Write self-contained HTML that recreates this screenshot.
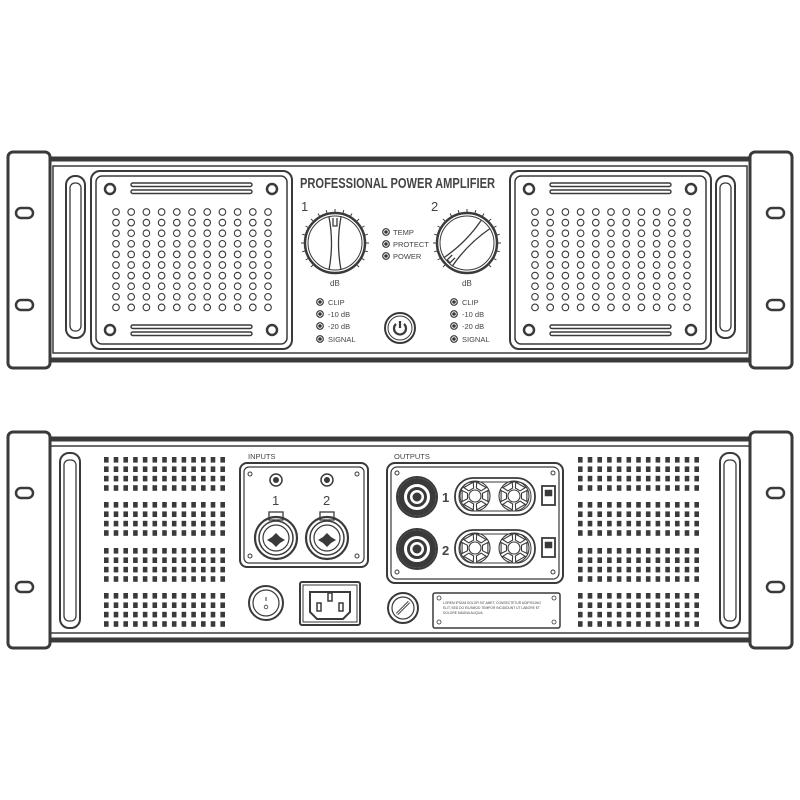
<!DOCTYPE html>
<html><head><meta charset="utf-8"><style>
html,body{margin:0;padding:0;background:#fff;width:800px;height:800px;overflow:hidden}
svg{display:block}
text{font-family:"Liberation Sans",sans-serif;fill:#444}
</style></head><body>
<svg id="s" width="800" height="800" viewBox="0 0 800 800" xmlns="http://www.w3.org/2000/svg">
<g fill="none" stroke="#3a3a3a">
<!-- FRONT -->
<rect x="47" y="159" width="706" height="201" stroke-width="5" fill="#fff"/>
<rect x="53" y="166" width="694" height="187" stroke-width="1.5"/>
<rect x="8" y="152" width="42" height="216" rx="5" stroke-width="3" fill="#fff"/>
<rect x="750" y="152" width="42" height="216" rx="5" stroke-width="3" fill="#fff"/>
<rect x="16" y="208" width="17" height="10" rx="5" stroke-width="2.5"/>
<rect x="16" y="300" width="17" height="10" rx="5" stroke-width="2.5"/>
<rect x="767" y="208" width="17" height="10" rx="5" stroke-width="2.5"/>
<rect x="767" y="300" width="17" height="10" rx="5" stroke-width="2.5"/>
<rect x="66" y="176" width="19" height="162" rx="9" stroke-width="2"/>
<rect x="70" y="183" width="11" height="148" rx="5" stroke-width="1.3"/>
<rect x="716" y="176" width="19" height="162" rx="9" stroke-width="2"/>
<rect x="720" y="183" width="11" height="148" rx="5" stroke-width="1.3"/>
<rect x="91" y="171" width="201" height="178" rx="9" stroke-width="2"/>
<rect x="96" y="176" width="191" height="168" rx="6" stroke-width="1.5"/>
<rect x="510" y="171" width="201" height="178" rx="9" stroke-width="2"/>
<rect x="515" y="176" width="191" height="168" rx="6" stroke-width="1.5"/>
<g stroke-width="2.5">
<circle cx="110" cy="189" r="5"/><circle cx="272" cy="189" r="5"/><circle cx="110" cy="330" r="5"/><circle cx="272" cy="330" r="5"/>
<circle cx="529" cy="189" r="5"/><circle cx="691" cy="189" r="5"/><circle cx="529" cy="330" r="5"/><circle cx="691" cy="330" r="5"/>
</g>
<g stroke-width="1.4">
<rect x="131" y="183" width="121" height="3.5" rx="1.7"/><rect x="131" y="190" width="121" height="3.5" rx="1.7"/>
<rect x="131" y="325" width="121" height="3.5" rx="1.7"/><rect x="131" y="332" width="121" height="3.5" rx="1.7"/>
<rect x="550" y="183" width="121" height="3.5" rx="1.7"/><rect x="550" y="190" width="121" height="3.5" rx="1.7"/>
<rect x="550" y="325" width="121" height="3.5" rx="1.7"/><rect x="550" y="332" width="121" height="3.5" rx="1.7"/>
</g>
<g id="dots" stroke-width="1.1"></g>
<!-- knobs -->
<g id="ticks" stroke-width="1"></g>
<circle cx="335" cy="243" r="30" stroke-width="2.5"/>
<circle cx="335" cy="243" r="27" stroke-width="1"/>
<path d="M329 217 Q334 243 329 270 M341 217 Q336 243 341 270 M333 218 v8 h4 v-8" stroke-width="1.3"/>
<circle cx="467" cy="243" r="30" stroke-width="2.5"/>
<circle cx="467" cy="243" r="27" stroke-width="1"/>
<g transform="rotate(45 467 243)"><path d="M461 217 Q466 243 461 270 M473 217 Q468 243 473 270 M465 262 v7 h4 v-7" stroke-width="1.3"/></g>
<g id="leds" stroke-width="1.2"></g>
<circle cx="400" cy="328" r="15" stroke-width="2"/>
<circle cx="400" cy="328" r="12" stroke-width="1"/>
<path d="M396 324 A6 6 0 1 0 404 324" stroke-width="2.2"/>
<line x1="400" y1="321" x2="400" y2="328" stroke-width="2.2"/>

<!-- BACK -->
<rect x="45" y="439" width="710" height="201" stroke-width="5" fill="#fff"/>
<rect x="50" y="446" width="700" height="187" stroke-width="1.5"/>
<rect x="8" y="432" width="42" height="216" rx="5" stroke-width="3" fill="#fff"/>
<rect x="750" y="432" width="42" height="216" rx="5" stroke-width="3" fill="#fff"/>
<rect x="16" y="488" width="17" height="10" rx="5" stroke-width="2.5"/>
<rect x="16" y="582" width="17" height="10" rx="5" stroke-width="2.5"/>
<rect x="767" y="488" width="17" height="10" rx="5" stroke-width="2.5"/>
<rect x="767" y="582" width="17" height="10" rx="5" stroke-width="2.5"/>
<rect x="60" y="453" width="20" height="175" rx="9" stroke-width="2"/>
<rect x="64" y="460" width="12" height="161" rx="5" stroke-width="1.3"/>
<rect x="720" y="453" width="20" height="175" rx="9" stroke-width="2"/>
<rect x="724" y="460" width="12" height="161" rx="5" stroke-width="1.3"/>
<g id="vents" fill="#3a3a3a" stroke="none"></g>
<!-- inputs -->
<rect x="240" y="463" width="128" height="104" rx="7" stroke-width="2"/>
<rect x="244" y="467" width="120" height="96" rx="5" stroke-width="1.2"/>
<g stroke-width="1"><circle cx="250" cy="474" r="2"/><circle cx="357" cy="474" r="2"/><circle cx="250" cy="556" r="2"/><circle cx="357" cy="556" r="2"/></g>
<circle cx="276" cy="480" r="6" stroke-width="1.5"/><circle cx="276" cy="480" r="2.5" fill="#3a3a3a"/>
<circle cx="327" cy="480" r="6" stroke-width="1.5"/><circle cx="327" cy="480" r="2.5" fill="#3a3a3a"/>
<g id="xlr"></g>
<!-- outputs -->
<rect x="387" y="463" width="176" height="120" rx="8" stroke-width="2"/>
<rect x="391" y="467" width="168" height="112" rx="6" stroke-width="1.2"/>
<g stroke-width="1"><circle cx="397" cy="473" r="2"/><circle cx="553" cy="473" r="2"/><circle cx="397" cy="572" r="2"/><circle cx="553" cy="572" r="2"/></g>
<g id="outs"></g>
<!-- bottom row -->
<circle cx="266" cy="603" r="17" stroke-width="2"/>
<circle cx="266" cy="603" r="13" stroke-width="1.2"/>
<line x1="266" y1="597" x2="266" y2="601" stroke-width="1"/><circle cx="266" cy="607" r="1.8" stroke-width="0.8"/>
<rect x="300" y="582" width="60" height="43" rx="2" stroke-width="2"/>
<rect x="303" y="585" width="54" height="37" stroke-width="1"/>
<path d="M310 592 h40 v20 l-7 7 h-26 l-7 -7 z" stroke-width="2"/>
<rect x="328" y="593" width="4" height="8" stroke-width="1.5"/>
<rect x="317" y="603" width="4" height="8" stroke-width="1.5"/>
<rect x="339" y="603" width="4" height="8" stroke-width="1.5"/>
<circle cx="403" cy="608" r="15" stroke-width="2"/>
<circle cx="403" cy="608" r="11" stroke-width="1.2"/>
<line x1="397" y1="614" x2="409" y2="602" stroke-width="3"/>
<line x1="397" y1="614" x2="409" y2="602" stroke="#fff" stroke-width="1"/>
<rect x="433" y="593" width="127" height="35" rx="2" stroke-width="1.5"/>
<g stroke-width="0.8"><circle cx="439" cy="598" r="2"/><circle cx="554" cy="598" r="2"/><circle cx="439" cy="622" r="2"/><circle cx="554" cy="622" r="2"/></g>
</g>
<text x="300" y="188" font-size="15" font-weight="bold" fill="#333" textLength="195" lengthAdjust="spacingAndGlyphs">PROFESSIONAL POWER AMPLIFIER</text>
<text x="301" y="211" font-size="13" fill="#333">1</text>
<text x="431" y="211" font-size="13" fill="#333">2</text>
<text x="330" y="286" font-size="8">dB</text>
<text x="462" y="286" font-size="8">dB</text>
<g font-size="7.5">
<text x="393" y="235">TEMP</text><text x="393" y="247">PROTECT</text><text x="393" y="259">POWER</text>
<text x="328" y="305">CLIP</text><text x="328" y="317">-10 dB</text><text x="328" y="329">-20 dB</text><text x="328" y="342">SIGNAL</text>
<text x="462" y="305">CLIP</text><text x="462" y="317">-10 dB</text><text x="462" y="329">-20 dB</text><text x="462" y="342">SIGNAL</text>
<text x="248" y="459">INPUTS</text><text x="394" y="459">OUTPUTS</text>
</g>
<text x="272" y="505" font-size="13" fill="#444">1</text>
<text x="323" y="505" font-size="13" fill="#444">2</text>
<text x="442" y="502" font-size="13" font-weight="bold" fill="#555">1</text>
<text x="442" y="555" font-size="13" font-weight="bold" fill="#555">2</text>
<g font-size="3.3" fill="#555">
<text x="443" y="604">LOREM IPSUM DOLOR SIT AMET, CONSECTETUR ADIPISCING</text>
<text x="443" y="609">ELIT, SED DO EIUSMOD TEMPOR INCIDIDUNT UT LABORE ET</text>
<text x="443" y="614">DOLORE MAGNA ALIQUA.</text>
</g>
</svg>
<script>
var NS="http://www.w3.org/2000/svg";
function el(p,t,a){var e=document.createElementNS(NS,t);for(var k in a)e.setAttribute(k,a[k]);document.getElementById(p).appendChild(e);return e;}
[116,535].forEach(function(x0){for(var i=0;i<11;i++)for(var j=0;j<10;j++)el("dots","circle",{cx:x0+i*15.2,cy:212+j*10.6,r:3.3});});
[[335,243],[467,243]].forEach(function(c){for(var a=-135;a<=135;a+=15){var r=a*Math.PI/180,s=Math.sin(r),co=-Math.cos(r);el("ticks","line",{x1:c[0]+s*31,y1:c[1]+co*31,x2:c[0]+s*34,y2:c[1]+co*34});}});
function led(x,y){el("leds","circle",{cx:x,cy:y,r:3.3});el("leds","circle",{cx:x,cy:y,r:1.2,fill:"#3a3a3a"});}
[232,244,256].forEach(function(y){led(386,y);});
[302,314,326,339].forEach(function(y){led(320,y);led(454,y);});
[104,578].forEach(function(x0){[457,502,548,593].forEach(function(y0){for(var i=0;i<13;i++)for(var j=0;j<4;j++)el("vents","rect",{x:x0+i*9.7,y:y0+j*9.4,width:4.6,height:5.6});});});
[276,327].forEach(function(x){
el("xlr","rect",{x:x-7,y:512,width:14,height:8,"stroke-width":1.3});
el("xlr","circle",{cx:x,cy:538,r:21,"stroke-width":2.2});
el("xlr","circle",{cx:x,cy:538,r:17,"stroke-width":1.5});
el("xlr","circle",{cx:x,cy:538,r:13,"stroke-width":1.2});
el("xlr","path",{d:"M"+(x-9)+" 540 l5 -3 l4 -4 l4 4 l5 3 l-5 3 l-4 4 l-4 -4z",fill:"#3a3a3a",stroke:"none"});
});
[497,549].forEach(function(y){
el("outs","circle",{cx:417,cy:y,r:20,"stroke-width":2});
el("outs","circle",{cx:417,cy:y,r:16,"stroke-width":6});
el("outs","circle",{cx:417,cy:y,r:8.5,"stroke-width":3});
el("outs","circle",{cx:417,cy:y,r:4,fill:"#3a3a3a"});
el("outs","rect",{x:455,y:y-19,width:80,height:37,rx:18,"stroke-width":1.8});
el("outs","rect",{x:459,y:y-15,width:72,height:29,rx:14,"stroke-width":1});
[475,514].forEach(function(fx){
el("outs","circle",{cx:fx,cy:y-1,r:15,"stroke-width":1.1});
el("outs","circle",{cx:fx,cy:y-1,r:6,"stroke-width":1.1});
for(var a=0;a<360;a+=60){var r=a*Math.PI/180;var p=function(rr,da){var q=r+da;return (fx+rr*Math.cos(q)).toFixed(1)+" "+(y-1+rr*Math.sin(q)).toFixed(1);};
el("outs","path",{d:"M"+p(8,-0.35)+" L"+p(14,-0.4)+" L"+p(14,0.4)+" L"+p(8,0.35)+"Z","stroke-width":1.1});}
});
el("outs","rect",{x:542,y:y-11,width:13,height:19,"stroke-width":1.8});
el("outs","rect",{x:545,y:y-7,width:7,height:6,fill:"#3a3a3a","stroke-width":0.5});
});
</script>
</body></html>
